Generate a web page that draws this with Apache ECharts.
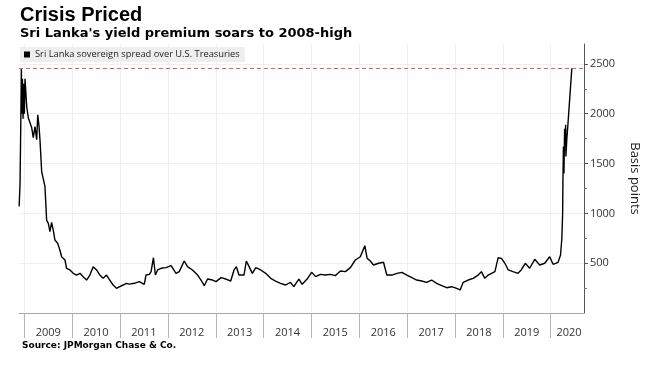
<!DOCTYPE html>
<html>
<head>
<meta charset="utf-8">
<script src="https://cdn.jsdelivr.net/npm/echarts@6/dist/echarts.min.js"></script>
<style>
  html, body { margin: 0; padding: 0; background: #fff; }
  #chart { width: 649px; height: 365px; }
</style>
</head>
<body>
<div id="chart"></div>
<script>
// ---- data ----
const dates = [
  '2008-11-22','2008-11-29','2008-12-05','2008-12-09','2008-12-12','2008-12-17','2008-12-22','2008-12-27',
  '2009-01-01','2009-01-06','2009-01-14','2009-01-19','2009-01-31','2009-02-13','2009-02-26','2009-03-10',
  '2009-03-23','2009-04-05','2009-04-13','2009-04-23','2009-04-30','2009-05-13','2009-05-25','2009-06-07',
  '2009-06-20','2009-07-03','2009-07-15','2009-07-28','2009-08-10','2009-08-22','2009-09-12','2009-09-29',
  '2009-10-12','2009-11-07','2009-11-19','2009-12-02','2009-12-15',
  '2010-01-09','2010-02-03','2010-03-01','2010-03-26','2010-04-21','2010-05-16','2010-06-10','2010-07-06',
  '2010-07-31','2010-08-25','2010-09-20','2010-10-15','2010-11-09','2010-12-05','2010-12-30',
  '2011-01-24','2011-02-19','2011-03-13','2011-04-20','2011-05-28','2011-07-05','2011-07-18','2011-08-13',
  '2011-08-26','2011-09-13','2011-09-28','2011-10-15','2011-11-10','2011-12-18',
  '2012-01-26','2012-03-03','2012-03-28','2012-05-05','2012-05-30','2012-07-07','2012-08-15','2012-09-10',
  '2012-10-05','2012-10-30','2012-12-07',
  '2013-01-03','2013-02-10','2013-03-18','2013-04-25','2013-05-20','2013-06-07','2013-06-27','2013-08-04',
  '2013-08-22','2013-09-12','2013-10-07','2013-11-02','2013-12-10',
  '2014-01-17','2014-02-24','2014-04-02','2014-05-10','2014-06-17','2014-07-25','2014-08-19','2014-09-27',
  '2014-10-22','2014-11-29',
  '2015-01-02','2015-02-02','2015-03-10','2015-04-17','2015-05-25','2015-07-02','2015-08-10','2015-09-17',
  '2015-10-25','2015-12-02',
  '2016-01-09','2016-02-12','2016-03-01','2016-03-25','2016-04-19','2016-05-27','2016-07-04','2016-07-29',
  '2016-09-06','2016-10-14','2016-11-21','2016-12-29',
  '2017-02-06','2017-03-14','2017-04-21','2017-05-29','2017-07-06','2017-08-14','2017-09-21','2017-10-29',
  '2017-12-06',
  '2018-01-13','2018-02-09','2018-03-04','2018-04-11','2018-05-19','2018-06-26','2018-07-21','2018-08-16',
  '2018-09-11','2018-10-06','2018-11-01','2018-11-26','2018-12-21',
  '2019-01-16','2019-02-11','2019-03-19','2019-04-26','2019-05-21','2019-06-21','2019-07-24','2019-09-01',
  '2019-10-09','2019-11-16','2019-12-24',
  '2020-01-19','2020-02-26','2020-03-16','2020-03-21','2020-03-26','2020-04-01','2020-04-03','2020-04-07',
  '2020-04-11','2020-04-16','2020-04-20','2020-04-24','2020-04-26','2020-05-03','2020-05-10','2020-05-16',
  '2020-06-10'
];
const spread = [
  1070,1300,1940,2460,2000,2350,1950,2300,
  2000,2350,2340,2070,1960,1950,1860,1760,
  1870,1740,1990,1870,1740,1420,1405,1270,
  930,900,816,910,826,733,700,632,
  565,532,449,465,432,
  398,381,398,365,331,381,465,432,
  381,348,381,331,281,248,265,
  281,298,290,298,315,288,381,388,
  415,555,381,432,449,455,
  475,398,415,522,465,432,381,331,
  274,341,331,
  315,355,341,321,432,465,381,381,
  522,465,398,455,432,
  398,348,321,298,281,308,264,341,
  288,341,
  408,365,388,381,388,375,421,415,
  455,532,
  565,676,548,522,482,499,509,381,
  381,398,408,381,
  355,331,321,308,331,298,274,254,
  264,
  248,231,308,331,348,381,415,348,
  381,398,415,555,548,
  499,432,415,398,432,499,449,539,
  482,499,565,
  489,509,582,600,750,1000,1300,1670,
  1400,1850,1700,1890,1570,1750,1870,1860,
  2455
];
const yearStarts = ['2009-01-01','2010-01-01','2011-01-01','2012-01-01','2013-01-01','2014-01-01',
                    '2015-01-01','2016-01-01','2017-01-01','2018-01-01','2019-01-01','2020-01-01'];
const yearLabelAt = ['2009-07-02','2010-07-02','2011-07-02','2012-07-02','2013-07-02','2014-07-02',
                     '2015-07-02','2016-07-02','2017-07-02','2018-07-02','2019-07-02','2020-05-20'];
const axisStart = '2008-11-21';
const axisEnd = '2020-09-11';
const yTicks = [500, 1000, 1500, 2000, 2500];
const latestValue = 2455;
const seriesName = 'Sri Lanka sovereign spread over U.S. Treasuries';

// ---- chart ----
const toTime = d => echarts.time.parse(d).getTime();
const chart = echarts.init(document.getElementById('chart'), null, { renderer: 'canvas' });

chart.setOption({
  animation: false,
  backgroundColor: '#fff',
  title: [
    { text: 'Crisis Priced', left: 20, top: 5, padding: 0,
      textStyle: { fontFamily: 'Liberation Sans', fontWeight: 'bold', fontSize: 20, color: '#000' } },
    { text: "Sri Lanka's yield premium soars to 2008-high", left: 20, top: 27, padding: 0,
      textStyle: { fontFamily: 'DejaVu Sans', fontWeight: 'bold', fontSize: 13, color: '#000' } },
    { text: 'Source: JPMorgan Chase & Co.', left: 22, top: 341, padding: 0,
      textStyle: { fontFamily: 'DejaVu Sans', fontWeight: 'bold', fontSize: 9, color: '#000' } }
  ],
  legend: {
    left: 20, top: 47,
    padding: [3, 5, 3, 4],
    backgroundColor: '#eeeeee',
    itemWidth: 6, itemHeight: 6,
    icon: 'rect',
    selectedMode: false,
    textStyle: { fontFamily: 'Open Sans', fontSize: 9.3, color: '#222' },
    data: [seriesName]
  },
  grid: { left: 19, right: 63, top: 44, bottom: 52 },
  xAxis: {
    type: 'value',
    min: toTime(axisStart),
    max: toTime(axisEnd),
    axisLine: { lineStyle: { color: '#a8a8a8', width: 1 } },
    axisTick: { show: true, length: 25, lineStyle: { color: '#b5b5b5' },
                customValues: yearStarts.map(toTime) },
    axisLabel: { customValues: yearLabelAt.map(toTime), margin: 14,
                 fontFamily: 'Open Sans', fontSize: 11, color: '#333',
                 formatter: v => String(new Date(v).getFullYear()) },
    splitLine: { show: true, lineStyle: { color: '#efefef', width: 1 } }
  },
  yAxis: {
    type: 'value',
    position: 'right',
    min: 0, max: 2700,
    interval: 500,
    name: 'Basis points',
    nameLocation: 'middle',
    nameRotate: -90,
    nameGap: 44,
    nameTextStyle: { fontFamily: 'Open Sans', fontSize: 13, color: '#222' },
    axisLine: { show: true, lineStyle: { color: '#555', width: 1 } },
    axisTick: { show: true, length: 4, lineStyle: { color: '#555' }, customValues: yTicks },
    minorTick: { show: true, splitNumber: 2, length: 3, lineStyle: { color: '#777' } },
    axisLabel: { customValues: yTicks, margin: 6, fontFamily: 'Open Sans', fontSize: 11, color: '#333',
                 formatter: v => String(v) },
    splitLine: { show: true, lineStyle: { color: '#efefef', width: 1 } }
  },
  series: [{
    name: seriesName,
    type: 'line',
    data: dates.map((d, i) => [toTime(d), spread[i]]),
    showSymbol: false,
    symbol: 'none',
    color: '#000',
    lineStyle: { color: '#000', width: 1.4 },
    markLine: {
      silent: true,
      symbol: ['none', 'none'],
      label: { show: false },
      lineStyle: { color: '#e06060', type: [4, 3], width: 1 },
      data: [{ yAxis: latestValue }]
    }
  }]
});
</script>
</body>
</html>
